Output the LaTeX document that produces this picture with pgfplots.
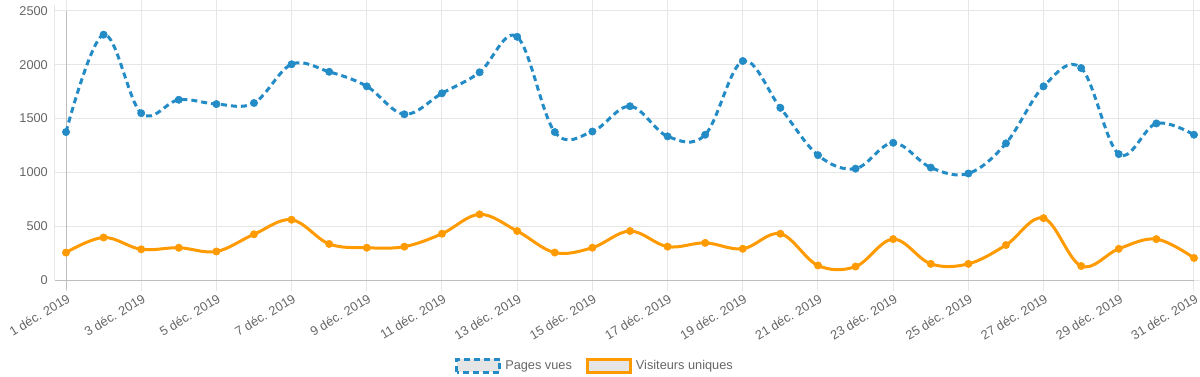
\documentclass[border=0pt]{standalone}
\usepackage{pgfplots}
\pgfplotsset{compat=1.18}
\usepackage{fontspec}
\setmainfont{Liberation Sans}
\definecolor{pv}{HTML}{238BC6}
\definecolor{vu}{HTML}{FF9A00}
\definecolor{gridc}{HTML}{E6E6E6}
\definecolor{axc}{HTML}{BDBDBD}
\definecolor{txt}{HTML}{666666}
\begin{document}
\begin{tikzpicture}
\path[use as bounding box] (0bp,0bp) rectangle (1200bp,377bp);
\begin{axis}[
  at={(66bp,97bp)}, anchor=south west,
  scale only axis, width=1128bp, height=269bp,
  xmin=1, xmax=31, ymin=0, ymax=2500,
  clip=false,
  axis line style={draw=none},
  xtick={1,3,...,31},
  xticklabels={1 déc. 2019,3 déc. 2019,5 déc. 2019,7 déc. 2019,9 déc. 2019,11 déc. 2019,13 déc. 2019,15 déc. 2019,17 déc. 2019,19 déc. 2019,21 déc. 2019,23 déc. 2019,25 déc. 2019,27 déc. 2019,29 déc. 2019,31 déc. 2019},
  ytick={0,500,...,2500},
  grid=major, major grid style={gridc, line width=1bp},
  tick align=outside, major tick length=11bp,
  tick style={gridc, line width=1bp},
  xticklabel style={rotate=31, anchor=north east, font=\fontsize{12.8}{14}\selectfont, text=txt, inner sep=1bp, yshift=-1bp},
  yticklabel style={font=\fontsize{12.8}{14}\selectfont, text=txt, inner sep=1bp, xshift=-6bp},
  /pgf/number format/assume math mode=true,
  /pgf/number format/1000 sep={},
  legend style={at={(0.4699,-0.318)}, anchor=center, draw=none, fill=none,
    font=\fontsize{12.8}{14}\selectfont, text=txt, legend columns=2,
    /tikz/every even column/.append style={column sep=10bp},
    /tikz/every odd column/.append style={column sep=0bp},
    nodes={inner xsep=4bp}},
  legend image code/.code={\draw[#1, fill=black!10] (0bp,-6.5bp) rectangle (43bp,6.5bp);},
]
\draw[gridc, line width=1bp] ([xshift=-11bp]axis cs:1,0) -- ([xshift=-11bp,yshift=6bp]axis cs:1,2500);
\draw[axc, line width=1bp] ([xshift=-11bp]axis cs:1,0) -- (axis cs:31,0);
\draw[axc, line width=1bp] ([yshift=-10bp]axis cs:1,0) -- (axis cs:1,2500);
\addplot[pv, line width=3bp, dash pattern=on 6bp off 4bp, smooth, tension=0.6, mark=*, mark size=3.7bp, mark options={solid, fill=pv, draw=pv, line width=0.5bp}] coordinates {
(1,1375) (2,2280) (3,1550) (4,1675) (5,1635) (6,1645) (7,2005) (8,1935) (9,1800) (10,1540)
(11,1735) (12,1930) (13,2260) (14,1375) (15,1380) (16,1615) (17,1335) (18,1350) (19,2035) (20,1600)
(21,1160) (22,1035) (23,1275) (24,1045) (25,990) (26,1270) (27,1800) (28,1970) (29,1170) (30,1455) (31,1350)
};
\addlegendentry{Pages vues}
\addplot[vu, line width=3bp, smooth, tension=0.6, mark=*, mark size=3.7bp, mark options={solid, fill=vu, draw=vu, line width=0.5bp}] coordinates {
(1,255) (2,395) (3,285) (4,300) (5,265) (6,425) (7,560) (8,335) (9,300) (10,310)
(11,430) (12,610) (13,455) (14,255) (15,300) (16,455) (17,310) (18,345) (19,290) (20,430)
(21,135) (22,125) (23,380) (24,150) (25,150) (26,325) (27,575) (28,130) (29,290) (30,380) (31,205)
};
\addlegendentry{Visiteurs uniques}
\end{axis}
\end{tikzpicture}
\end{document}
